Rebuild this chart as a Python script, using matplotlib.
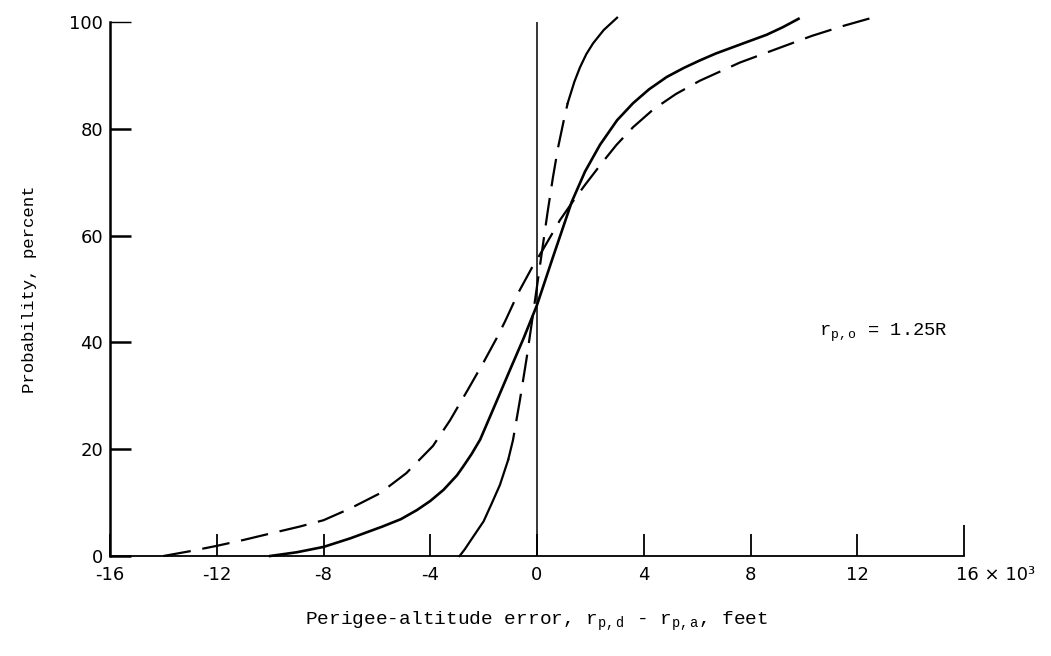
import matplotlib
matplotlib.use("Agg")
import matplotlib.pyplot as plt
import matplotlib.transforms as mtransforms

plt.rcParams['lines.scale_dashes'] = False
plt.rcParams['mathtext.fontset'] = 'custom'
plt.rcParams['mathtext.rm'] = 'Liberation Mono'
plt.rcParams['mathtext.it'] = 'Liberation Mono'

# ---- data (x in thousands of feet, y in percent) ----
wide_x = [-14.0, -13.0, -12.0, -11.0, -10.0, -8.9, -8.0, -7.0, -5.9, -4.9, -3.9, -3.26,
          -2.63, -2.0, -1.5, -1.2, -0.7, -0.2, 0.2, 0.55, 0.86, 1.36, 1.8, 2.4, 2.98,
          3.6, 4.35, 5.2, 6.1, 7.6, 9.0, 10.3, 11.5, 12.7]
wide_y = [0.0, 0.9, 1.9, 3.0, 4.2, 5.5, 6.7, 8.9, 11.7, 15.5, 20.6, 25.4,
          30.8, 36.3, 40.9, 43.9, 49.3, 53.9, 57.2, 60.2, 62.9, 66.5, 69.5, 73.4, 77.0,
          80.3, 83.6, 86.5, 89.0, 92.4, 95.0, 97.4, 99.3, 101.0]

medium_x = [-10.0, -9.0, -8.0, -7.0, -5.8, -5.1, -4.5, -4.0, -3.5, -3.0, -2.76, -2.45,
            -2.13, -1.7, -1.0, -0.5, 0.0, 0.6, 1.3, 1.8, 2.36, 3.0, 3.6, 4.2, 4.86,
            5.5, 6.1, 6.7, 7.35, 8.0, 8.6, 9.2, 9.8]
medium_y = [0.0, 0.7, 1.7, 3.3, 5.5, 6.9, 8.6, 10.3, 12.4, 15.1, 16.8, 19.1,
            21.8, 26.8, 35.0, 40.8, 47.0, 56.0, 66.3, 72.0, 77.0, 81.6, 84.8, 87.4, 89.7,
            91.4, 92.8, 94.1, 95.3, 96.5, 97.6, 99.0, 100.6]

narrow_low_x = [-2.9, -2.7, -2.5, -2.0, -1.7, -1.39, -1.08]
narrow_low_y = [0.0, 1.3, 2.8, 6.5, 9.8, 13.3, 18.0]
narrow_mid_x = [-1.08, -0.9, -0.64, -0.39, -0.2, 0.0, 0.2, 0.4, 0.6, 0.79, 1.0, 1.15]
narrow_mid_y = [18.0, 21.7, 29.2, 37.0, 43.5, 50.5, 57.5, 64.5, 71.0, 76.5, 81.5, 84.8]
narrow_top_x = [1.15, 1.4, 1.61, 1.85, 2.1, 2.5, 3.0]
narrow_top_y = [84.8, 88.8, 91.5, 94.0, 96.0, 98.5, 100.8]

x_ticks = [-16, -12, -8, -4, 0, 4, 8, 12, 16]
x_tick_labels = ['-16', '-12', '-8', '-4', '0', '4', '8', '12', '16 × 10³']
y_ticks = [0, 20, 40, 60, 80, 100]
y_tick_labels = ['0', '20', '40', '60', '80', '100']

mono = 'Liberation Mono'

fig = plt.figure(figsize=(10.51, 6.56), dpi=100)
ax = fig.add_axes([110/1051, 100/656, (964-110)/1051, (556-22)/656])
ax.set_xlim(-16, 16)
ax.set_ylim(0, 100)

dash = (0, (20, 8.5))
ax.plot(wide_x, wide_y, color='black', lw=1.6, linestyle=dash, clip_on=False)
ax.plot(medium_x, medium_y, color='black', lw=1.9, clip_on=False)
ax.plot(narrow_low_x, narrow_low_y, color='black', lw=1.6, clip_on=False)
ax.plot(narrow_mid_x, narrow_mid_y, color='black', lw=1.6, linestyle=dash, clip_on=False)
ax.plot(narrow_top_x, narrow_top_y, color='black', lw=1.6, clip_on=False)

ax.axvline(0, ymin=0, ymax=1, color='black', lw=1.1)

for s in ['top', 'right']:
    ax.spines[s].set_visible(False)
ax.spines['left'].set_linewidth(1.8)
ax.spines['bottom'].set_linewidth(1.3)

ax.set_xticks(x_ticks)
ax.set_xticklabels(x_tick_labels)
ax.set_yticks(y_ticks)
ax.set_yticklabels(y_tick_labels)
ax.tick_params(axis='x', direction='in', length=16, width=1.3, pad=7, labelsize=13)
ax.tick_params(axis='y', direction='in', length=15, width=1.8, pad=5, labelsize=13)

# longer final x tick, thinner 100 tick
xt = ax.xaxis.get_major_ticks()
xt[-1].tick1line.set_markersize(22)
yt = ax.yaxis.get_major_ticks()
yt[-1].tick1line.set_markeredgewidth(1.0)

# left-align the last x label (16 × 10³)
lab = ax.get_xticklabels()[-1]
lab.set_horizontalalignment('left')
lab.set_transform(lab.get_transform() + mtransforms.ScaledTranslation(-6/72, 0, fig.dpi_scale_trans))

ax.set_xlabel(r'Perigee-altitude error, r$_{\mathrm{p,d}}$ - r$_{\mathrm{p,a}}$, feet',
              fontfamily=mono, fontsize=14, labelpad=19)
ax.set_ylabel('Probability, percent', fontfamily=mono, fontsize=12.5, labelpad=23)

ax.text(10.56, 41.7, r'r$_{\mathrm{p,o}}$ = 1.25R', fontfamily=mono, fontsize=13.5,
        ha='left', va='center')

fig.savefig('out.png', dpi=100)
